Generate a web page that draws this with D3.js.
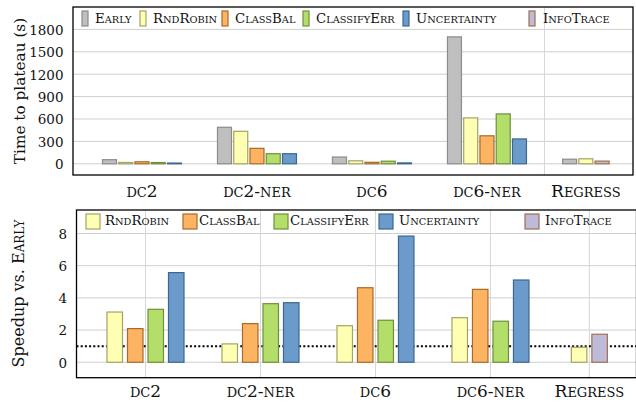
<!DOCTYPE html>
<html><head><meta charset="utf-8">
<script src="https://cdn.jsdelivr.net/npm/d3@7/dist/d3.min.js"></script>
<style>body{margin:0;background:#fff} svg{display:block}</style>
</head><body><svg id="c" width="636" height="403"></svg>
<script>
// ---------- data ----------
const categories = ["dc2", "dc2-ner", "dc6", "dc6-ner", "Regress"];
const seriesNames = ["Early", "RndRobin", "ClassBal", "ClassifyErr", "Uncertainty", "InfoTrace"];

// Time to plateau (s)
const timeEarly       = [55, 489, 91, 1700, 62];
const timeRndRobin    = [18, 435, 40, 615, 67];
const timeClassBal    = [27, 207, 20, 375, null];
const timeClassifyErr = [17, 135, 35, 668, null];
const timeUncertainty = [10, 135, 12, 333, null];
const timeInfoTrace   = [null, null, null, null, 36];

// Speedup vs. Early
const speedRndRobin    = [3.12, 1.14, 2.27, 2.77, 0.93];
const speedClassBal    = [2.09, 2.40, 4.63, 4.53, null];
const speedClassifyErr = [3.29, 3.64, 2.61, 2.55, null];
const speedUncertainty = [5.57, 3.70, 7.84, 5.11, null];
const speedInfoTrace   = [null, null, null, null, 1.74];

const timeTicks = [0, 300, 600, 900, 1200, 1500, 1800];
const speedTicks = [0, 2, 4, 6, 8];
const speedBaseline = 1;

const timeSeries = {Early: timeEarly, RndRobin: timeRndRobin, ClassBal: timeClassBal,
  ClassifyErr: timeClassifyErr, Uncertainty: timeUncertainty, InfoTrace: timeInfoTrace};
const speedSeries = {RndRobin: speedRndRobin, ClassBal: speedClassBal,
  ClassifyErr: speedClassifyErr, Uncertainty: speedUncertainty, InfoTrace: speedInfoTrace};

// ---------- styles ----------
const fills   = {Early:"#bfbfbf", RndRobin:"#ffffb3", ClassBal:"#fdb462", ClassifyErr:"#b3de69", Uncertainty:"#6a9bca", InfoTrace:"#bebada"};
const strokes = {Early:"#8c8c8c", RndRobin:"#a3a368", ClassBal:"#a8692a", ClassifyErr:"#6f8f3d", Uncertainty:"#3b6790", InfoTrace:"#a0704c"};
const FONT = "DejaVu Serif";

const svg = d3.select("#c");

// small-caps writer: lowercase letters -> uppercase at smaller size
function smallCaps(textSel, str, big, small) {
  const parts = [];
  for (const ch of str) {
    const isLower = ch !== ch.toUpperCase();
    const size = isLower ? small : big;
    const c = isLower ? ch.toUpperCase() : ch;
    if (parts.length && parts[parts.length - 1].size === size) parts[parts.length - 1].t += c;
    else parts.push({t: c, size});
  }
  parts.forEach(p => textSel.append("tspan").attr("font-size", p.size).text(p.t));
}

function catSlot(i) { return i < 4 ? i : 3.86; }

function drawPanel(cfg) {
  const g = svg.append("g");
  const x = d3.scaleLinear().domain([-0.6, 4.27]).range([cfg.left, cfg.right]);
  const y = d3.scaleLinear().domain(cfg.yDomain).range([cfg.bottom, cfg.top]);

  // horizontal grid
  g.selectAll(".hg").data(cfg.ticks).enter().append("line")
    .attr("x1", cfg.left).attr("x2", cfg.right)
    .attr("y1", d => y(d)).attr("y2", d => y(d))
    .attr("stroke", "#cfcfcf").attr("stroke-width", 1);

  // vertical grid
  if (cfg.vgrid) g.selectAll(".vg").data(cfg.vgrid).enter().append("line")
    .attr("x1", d => x(d)).attr("x2", d => x(d))
    .attr("y1", cfg.top).attr("y2", cfg.bottom)
    .attr("stroke", "#d6d6d6").attr("stroke-width", 1);

  // baseline dotted line
  if (cfg.refLine != null) g.append("line")
    .attr("x1", cfg.left).attr("x2", cfg.right + 5)
    .attr("y1", y(cfg.refLine)).attr("y2", y(cfg.refLine))
    .attr("stroke", "#000").attr("stroke-width", 2).attr("stroke-dasharray", "2,2.2");

  // y tick labels
  const yAxis = d3.axisLeft(y).tickValues(cfg.ticks).tickSize(0).tickPadding(0).tickFormat(d3.format("d"));
  const ya = g.append("g").attr("transform", `translate(${cfg.left - 9.5},0)`).call(yAxis);
  ya.select(".domain").remove();
  ya.selectAll("text").attr("font-family", FONT).attr("font-size", 13.5).attr("fill", "#111").attr("dy", "0.36em");

  // bars
  const names = Object.keys(cfg.series);
  categories.forEach((cat, i) => {
    const present = names.filter(n => cfg.series[n][i] != null);
    const n = present.length;
    present.forEach((name, k) => {
      const v = cfg.series[name][i];
      const cx = x(catSlot(i)) + (k - (n - 1) / 2) * cfg.step;
      g.append("rect")
        .attr("x", cx - cfg.barW / 2).attr("width", cfg.barW)
        .attr("y", Math.min(y(v), y(0))).attr("height", Math.abs(y(0) - y(v)))
        .attr("fill", fills[name]).attr("stroke", strokes[name]).attr("stroke-width", 1.2);
    });
    // category label
    const t = g.append("text").attr("x", x(catSlot(i))).attr("y", cfg.labelY)
      .attr("text-anchor", "middle").attr("font-family", FONT).attr("fill", "#111");
    smallCaps(t, cat, 17, 13);
  });

  // frame
  g.append("rect").attr("x", cfg.left).attr("y", cfg.top)
    .attr("width", cfg.right - cfg.left).attr("height", cfg.bottom - cfg.top)
    .attr("fill", "none").attr("stroke", "#000").attr("stroke-width", 1.3);

  // legend
  cfg.legend.forEach((item, j) => {
    g.append("rect").attr("x", item.sx).attr("y", cfg.legendSwatch.y)
      .attr("width", cfg.legendSwatch.w).attr("height", cfg.legendSwatch.h)
      .attr("fill", fills[item.name]).attr("stroke", strokes[item.name]).attr("stroke-width", 1.2);
    const t = g.append("text").attr("x", item.tx).attr("y", cfg.legendBase)
      .attr("font-family", FONT).attr("fill", "#111");
    smallCaps(t, item.name, 13.3, 9.8);
  });

  // y label
  const yl = g.append("text")
    .attr("transform", `translate(${cfg.ylabX},${cfg.ylabY}) rotate(-90)`)
    .attr("text-anchor", "middle").attr("font-family", FONT).attr("font-size", cfg.ylabSize).attr("fill", "#111");
  yl.append("tspan").text(cfg.ylabel[0]);
  if (cfg.ylabel[1]) smallCaps(yl, cfg.ylabel[1], cfg.ylabSize, cfg.ylabSize * 0.75);
}

drawPanel({
  left: 73, right: 633, top: 7, bottom: 175, yDomain: [-150, 2100], ticks: timeTicks,
  series: timeSeries, step: 16.25, barW: 14, labelY: 196.5, vgrid: [3.5],
  legend: [
    {name:"Early", sx:82, tx:95}, {name:"RndRobin", sx:140, tx:153}, {name:"ClassBal", sx:222, tx:235},
    {name:"ClassifyErr", sx:303, tx:316}, {name:"Uncertainty", sx:403, tx:416}, {name:"InfoTrace", sx:529, tx:543}
  ],
  legendSwatch: {y: 11, w: 6, h: 15}, legendBase: 22.8,
  ylabel: ["Time to plateau (s)"], ylabX: 24.5, ylabY: 91, ylabSize: 15.3
});

drawPanel({
  left: 76.5, right: 636.5, top: 210, bottom: 377.7, yDomain: [-0.96, 9.46], ticks: speedTicks,
  series: speedSeries, step: 20.5, barW: 15.5, labelY: 396.7, vgrid: [0, 1, 2, 3, 3.86],
  refLine: speedBaseline,
  legend: [
    {name:"RndRobin", sx:86, tx:105}, {name:"ClassBal", sx:183, tx:199}, {name:"ClassifyErr", sx:274, tx:290},
    {name:"Uncertainty", sx:379, tx:399}, {name:"InfoTrace", sx:525, tx:545}
  ],
  legendSwatch: {y: 214, w: 14, h: 15}, legendBase: 224.5,
  ylabel: ["Speedup vs. ", "Early"], ylabX: 23.8, ylabY: 293.5, ylabSize: 16
});
</script></body></html>
